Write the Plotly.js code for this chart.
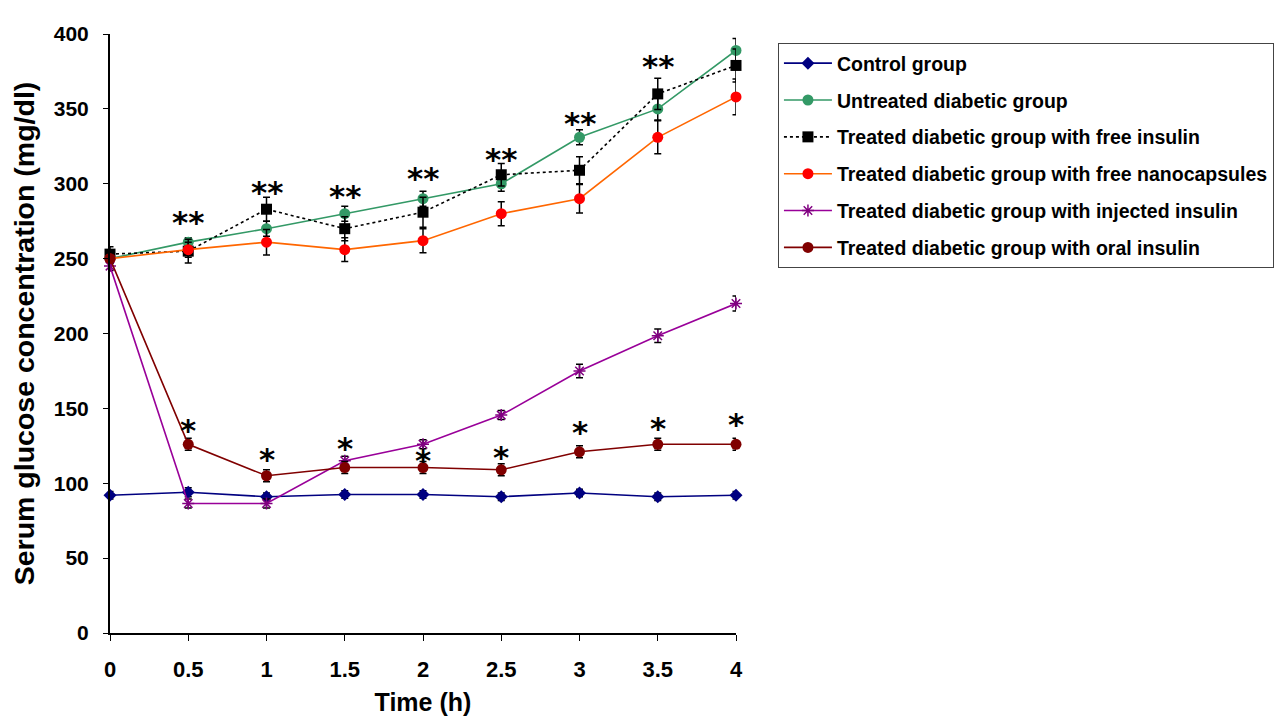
<!DOCTYPE html>
<html>
<head>
<meta charset="utf-8">
<script src="https://cdn.plot.ly/plotly-3.0.1.min.js"></script>
<style>html,body{margin:0;padding:0;background:#fff;}#chart{width:1280px;height:717px;}</style>
</head>
<body>
<div id="chart"></div>
<script>
const timeH = [0, 0.5, 1, 1.5, 2, 2.5, 3, 3.5, 4];
const xTickText = ["0", "0.5", "1", "1.5", "2", "2.5", "3", "3.5", "4"];

const controlVals = [92, 94, 91, 92.5, 92.5, 91, 93.5, 91, 92];
const controlErr = [2.5, 3, 2.5, 2.5, 2.5, 2.5, 2.5, 2.5, 2.5];

const untreatedVals = [250, 261, 270, 280, 290, 300, 331, 350, 389];
const untreatedErr = [3, 3, 5, 5, 5, 5, 5, 7.5, 8];

const freeInsulinVals = [253, 255, 283, 270, 281, 306, 309, 360, 379];
const freeInsulinErr = [5, 8, 8, 8, 10, 7.5, 9, 10.5, 11];

const nanoVals = [250, 256, 261, 256, 262, 280, 290, 331, 358];
const nanoErr = [3, 5, 8.5, 8, 8, 8, 9.5, 11, 12];

const injectedVals = [245, 86.5, 86.5, 115, 126, 145.5, 175, 198.5, 220];
const injectedErr = [3, 3, 3, 3, 3, 3, 4.5, 4.5, 5];

const oralVals = [250, 126, 105, 110.5, 110.5, 109, 121, 126, 126];
const oralErr = [3, 4, 4, 4, 4, 4, 4, 4, 4];

const doubleStarY = [279, 299, 296.5, 308.5, 321, 345, 383.5, 409.5];
const singleStarY = [140, 121, 128, 120, 122, 139, 141.5, 144];
const starX = [0.5, 1, 1.5, 2, 2.5, 3, 3.5, 4];

const seriesNames = [
  "Control group",
  "Untreated diabetic group",
  "Treated diabetic group with free insulin",
  "Treated diabetic group with free nanocapsules",
  "Treated diabetic group with injected insulin",
  "Treated diabetic group with oral insulin"
];

function mk(name, y, err, lineColor, dash, symbol, markerColor, size, extraMarker) {
  return {
    type: "scatter", mode: "lines+markers", name: name, x: timeH, y: y,
    legendgroup: name, cliponaxis: false,
    line: {color: lineColor, width: 1.6, dash: dash},
    marker: Object.assign({symbol: symbol, color: markerColor, size: size}, extraMarker || {}),
    error_y: {type: "data", array: err, visible: true, color: "#000", thickness: 1.5, width: 3.5}
  };
}

const traces = [
  mk(seriesNames[0], controlVals, controlErr, "#000080", "solid", "diamond", "#000080", 10),
  mk(seriesNames[1], untreatedVals, untreatedErr, "#339966", "solid", "circle", "#339966", 11),
  mk(seriesNames[2], freeInsulinVals, freeInsulinErr, "#000000", "dot", "square", "#000000", 11),
  mk(seriesNames[3], nanoVals, nanoErr, "#FF6600", "solid", "circle", "#FF0000", 11),
  mk(seriesNames[4], injectedVals, injectedErr, "#990099", "solid", "asterisk-open", "#800080", 10, {line: {color: "#800080", width: 1.5}}),
  mk(seriesNames[5], oralVals, oralErr, "#800000", "solid", "circle", "#800000", 11)
];

const starFont = {family: "DejaVu Sans, Liberation Sans, sans-serif", size: 31, color: "#000", weight: "bold"};
const annotations = [];
starX.forEach((x, i) => {
  annotations.push({x: x, y: doubleStarY[i], xref: "x", yref: "y", text: "**", showarrow: false,
    font: starFont, yanchor: "middle", yshift: -7});
  annotations.push({x: x, y: singleStarY[i], xref: "x", yref: "y", text: "*", showarrow: false,
    font: starFont, yanchor: "middle", yshift: -7});
});

const layout = {
  width: 1280, height: 717,
  margin: {l: 110, r: 544, t: 34, b: 84, autoexpand: false},
  paper_bgcolor: "#fff", plot_bgcolor: "#fff",
  showlegend: true,
  legend: {
    x: 1.067, y: 0.985, xanchor: "left", yanchor: "top",
    bordercolor: "#444", borderwidth: 1, bgcolor: "#fff",
    font: {family: "Liberation Sans, Arial, sans-serif", size: 19.5, color: "#000", weight: "bold"},
    tracegroupgap: 8.5, itemwidth: 48
  },
  xaxis: {
    range: [0, 4], tickmode: "array", tickvals: timeH, ticktext: xTickText,
    showgrid: false, zeroline: false, showline: true, linecolor: "#000", linewidth: 2,
    ticks: "outside", ticklen: 6, tickcolor: "#000", tickwidth: 1,
    ticklabelstandoff: 10, automargin: false,
    tickfont: {family: "Liberation Sans Narrow, Arial Narrow, Liberation Sans, sans-serif", size: 22, color: "#000", weight: "bold"},
    title: {text: "Time (h)", standoff: 12, font: {family: "Liberation Sans Narrow, Arial Narrow, Liberation Sans, sans-serif", size: 25, color: "#000", weight: "bold"}}
  },
  yaxis: {
    range: [0, 400], dtick: 50, tick0: 0,
    showgrid: false, zeroline: false, showline: true, linecolor: "#000", linewidth: 2,
    ticks: "outside", ticklen: 5, tickcolor: "#000", tickwidth: 1,
    ticklabelstandoff: 10, automargin: false,
    tickfont: {family: "Liberation Sans, Arial, sans-serif", size: 21, color: "#000", weight: "bold"},
    title: {text: "Serum glucose concentration (mg/dl)", standoff: 11, font: {family: "Liberation Sans, Arial, sans-serif", size: 28.5, color: "#000", weight: "bold"}}
  },
  annotations: annotations
};

Plotly.newPlot("chart", traces, layout, {displayModeBar: false, staticPlot: true});
</script>
</body>
</html>
